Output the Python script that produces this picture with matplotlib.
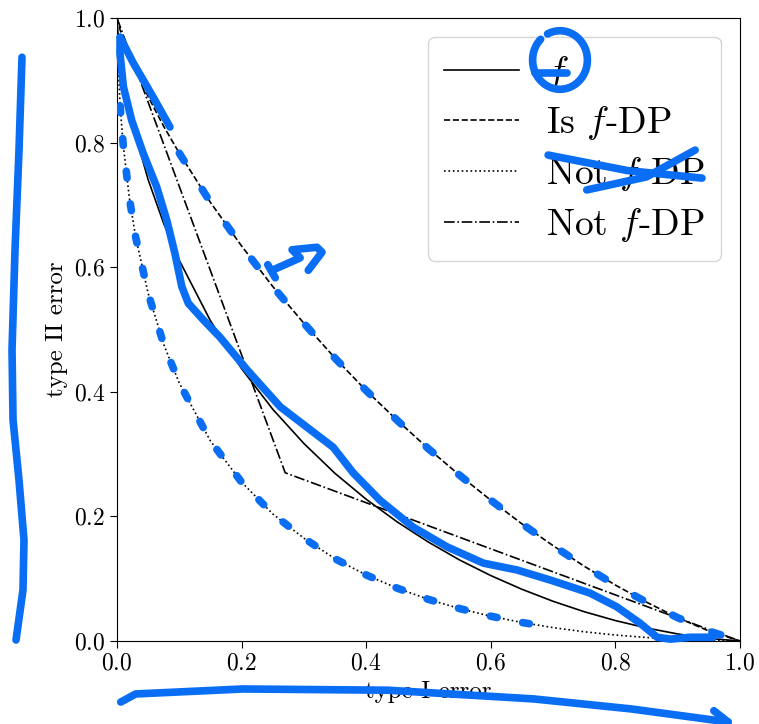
import matplotlib
matplotlib.use("Agg")
import matplotlib.pyplot as plt
import numpy as np

plt.rcParams["font.family"] = "serif"
plt.rcParams["font.serif"] = ["cmr10"]
plt.rcParams["mathtext.fontset"] = "cm"
plt.rcParams["axes.formatter.use_mathtext"] = True

# type I error grid
alpha = [0, 0.001, 0.005, 0.01, 0.02, 0.03, 0.05, 0.075, 0.1, 0.15, 0.2, 0.25, 0.3,
         0.35, 0.4, 0.45, 0.5, 0.55, 0.6, 0.65, 0.7, 0.75, 0.8, 0.85, 0.9, 0.95, 1.0]
# trade-off function f
f_vals = [1, 0.982, 0.9425, 0.9076, 0.854, 0.811, 0.7405, 0.670, 0.611, 0.514, 0.437,
          0.372, 0.317, 0.269, 0.2275, 0.191, 0.1587, 0.130, 0.105, 0.083, 0.0637,
          0.047, 0.0328, 0.0209, 0.0113, 0.0041, 0]
# "Is f-DP" curve
is_dp = [1, 0.9952, 0.981, 0.966, 0.940, 0.916, 0.874, 0.826, 0.783, 0.704, 0.634,
         0.569, 0.510, 0.454, 0.402, 0.354, 0.3085, 0.266, 0.226, 0.188, 0.153,
         0.120, 0.0898, 0.0623, 0.0374, 0.016, 0]
# "Not f-DP" (dotted) curve
not_dp1 = [1, 0.944, 0.859, 0.796, 0.710, 0.648, 0.558, 0.476, 0.414, 0.321, 0.255,
           0.204, 0.165, 0.132, 0.106, 0.0847, 0.0668, 0.052, 0.0398, 0.0297, 0.0215,
           0.0148, 0.0096, 0.0056, 0.0027, 0.0008, 0]
# "Not f-DP" (dash-dot) piecewise linear curve
not_dp2_x = [0, 0.27, 1.0]
not_dp2_y = [1, 0.27, 0]

labels = [r"$f$", r"Is $f$-DP", r"Not $f$-DP", r"Not $f$-DP"]

# blue hand-drawn sketch strokes (data coordinates)
sketch_f_x = [0.005, 0.0048, 0.0102, 0.0235, 0.042, 0.0637, 0.0797, 0.093, 0.104,
              0.1145, 0.139, 0.165, 0.209, 0.262, 0.326, 0.347, 0.379, 0.422, 0.475,
              0.53, 0.588, 0.642, 0.695, 0.759, 0.802, 0.839, 0.867, 0.888, 0.92, 0.957]
sketch_f_y = [0.969, 0.943, 0.890, 0.836, 0.783, 0.729, 0.676, 0.622, 0.569,
              0.542, 0.515, 0.488, 0.435, 0.376, 0.327, 0.311, 0.27, 0.226, 0.183,
              0.151, 0.125, 0.114, 0.098, 0.077, 0.055, 0.029, 0.006, 0.003, 0.006, 0.006]
sketch_top_x = [0.005, 0.026, 0.058, 0.085]
sketch_top_y = [0.969, 0.928, 0.873, 0.825]
arrow_x = [0.249, 0.294, 0.281, 0.321, 0.329, 0.307]
arrow_y = [0.595, 0.615, 0.628, 0.632, 0.624, 0.595]
arrow_tick_x = [0.242, 0.254]
arrow_tick_y = [0.604, 0.583]
cross1_x = [0.692, 0.82, 0.939]
cross1_y = [0.780, 0.755, 0.743]
cross2_x = [0.754, 0.85, 0.928]
cross2_y = [0.724, 0.745, 0.788]
left_x = [-0.1525, -0.1573, -0.1637, -0.1685, -0.1669, -0.1573, -0.1493, -0.1509, -0.1621]
left_y = [0.937, 0.788, 0.628, 0.467, 0.355, 0.258, 0.162, 0.082, 0.0016]
bottom_x = [0.006, 0.030, 0.202, 0.435, 0.669, 0.825, 0.981]
bottom_y = [-0.098, -0.085, -0.077, -0.079, -0.093, -0.109, -0.130]

blue = "#0a6ef5"

fig = plt.figure(figsize=(7.59, 7.24), dpi=100)
ax = fig.add_axes([117 / 759, 1 - 641 / 724, 623 / 759, 623 / 724])

ax.plot(alpha, f_vals, color="black", lw=1.2, linestyle="-", label=labels[0])
ax.plot(alpha, is_dp, color="black", lw=1.2, linestyle="--", label=labels[1])
ax.plot(alpha, not_dp1, color="black", lw=1.2, linestyle=":", label=labels[2])
ax.plot(not_dp2_x, not_dp2_y, color="black", lw=1.2, linestyle="-.", label=labels[3])

ax.set_xlim(0, 1)
ax.set_ylim(0, 1)
ax.set_xticks([0, 0.2, 0.4, 0.6, 0.8, 1.0])
ax.set_yticks([0, 0.2, 0.4, 0.6, 0.8, 1.0])
ax.tick_params(labelsize=17, length=5)
ax.set_xlabel("type I error", fontsize=18)
ax.set_ylabel("type II error", fontsize=18)

leg = ax.legend(loc="upper right", fontsize=27, handlelength=2.0, handletextpad=0.7,
                borderpad=0.45, labelspacing=0.34, fancybox=True, framealpha=0.8)

# sketch overlay
ts = dict(color=blue, lw=5.5, solid_capstyle="round", solid_joinstyle="round",
          clip_on=False, zorder=10)
ax.plot(sketch_f_x, sketch_f_y, **ts)
ax.plot(sketch_top_x, sketch_top_y, **ts)
ax.plot(arrow_x, arrow_y, **ts)
ax.plot(arrow_tick_x, arrow_tick_y, **ts)
ax.plot(cross1_x, cross1_y, **ts)
ax.plot(cross2_x, cross2_y, **ts)
ax.plot(left_x, left_y, **ts)
ax.plot(bottom_x, bottom_y, **ts)
ax.plot([0.958, 0.981, 0.965], [-0.112, -0.130, -0.131], **ts)

a = np.array(alpha)
m1 = (a >= 0.1)
ax.plot(a[m1], np.array(is_dp)[m1], color=blue, lw=5.5, linestyle=(0, (1.2, 4.4)),
        dash_capstyle="round", zorder=10)
m2 = (a >= 0.005) & (a <= 0.72)
ax.plot(a[m2], np.array(not_dp1)[m2], color=blue, lw=5.5, linestyle=(0, (0.9, 3.4)),
        dash_capstyle="round", zorder=10)

# circle around f in legend
t = np.linspace(0.15 * np.pi, 2.05 * np.pi, 60)
cx, cy = (560 - 117) / 623, (641 - 60) / 623
ax.plot(cx + 0.044 * np.cos(t + 0.6 * np.pi), cy + 0.047 * np.sin(t + 0.6 * np.pi), **ts)
ax.plot([(535 - 117) / 623, (567 - 117) / 623], [(641 - 73) / 623, (641 - 73) / 623], **ts)

fig.savefig("out.png", dpi=100)
